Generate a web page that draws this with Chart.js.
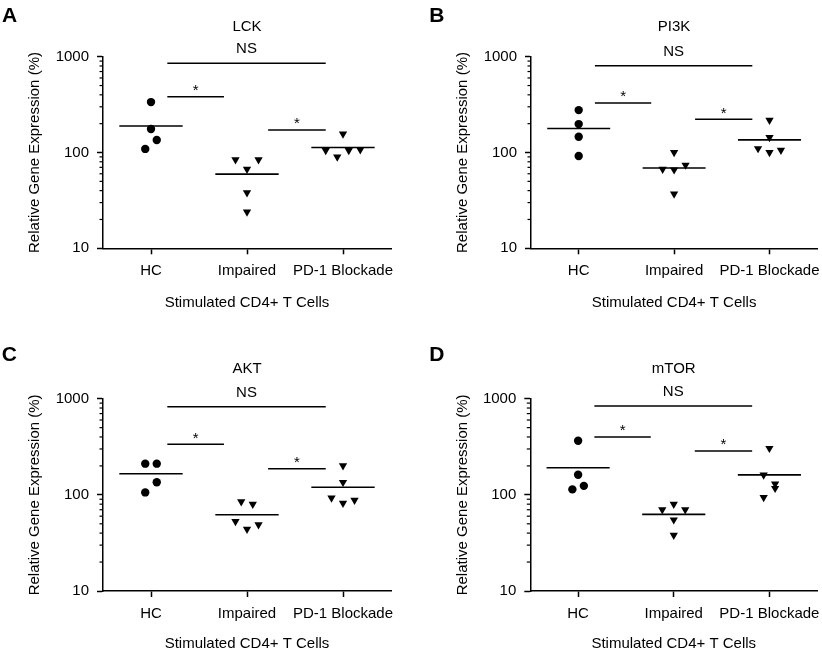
<!DOCTYPE html>
<html lang="en">

<head>
    <meta charset="UTF-8">
    <title>Relative Gene Expression</title>
    <script src="https://cdn.jsdelivr.net/npm/chart.js"></script>
    <style>
        body { margin: 0; background: #fff; }
        #wrap { position: relative; width: 822px; height: 652px; }
        #wrap canvas { position: absolute; }
    </style>
</head>

<body>
    <div id="wrap">
        <canvas id="chartA" width="411" height="326" style="left:0;top:0"></canvas>
        <canvas id="chartB" width="411" height="326" style="left:411px;top:0"></canvas>
        <canvas id="chartC" width="411" height="326" style="left:0;top:326px"></canvas>
        <canvas id="chartD" width="411" height="326" style="left:411px;top:326px"></canvas>
    </div>

    <script>
        const categories = ['HC', 'Impaired', 'PD-1 Blockade'];
        const yTickLabels = [10, 100, 1000];
        const genes = ['LCK', 'PI3K', 'AKT', 'mTOR'];
        const panelLetters = ['A', 'B', 'C', 'D'];

        // relative gene expression (%), one value per donor
        const lckHC = [336, 176, 109, 135];
        const lckImpaired = [84, 67, 84, 38, 24];
        const lckPD1 = [156, 105, 90, 105, 107];
        const pi3kHC = [277, 198, 146, 92];
        const pi3kImpaired = [100, 67, 66, 74, 37];
        const pi3kPD1 = [218, 144, 110, 100, 106];
        const aktHC = [211, 211, 106, 135];
        const aktImpaired = [85, 80, 53, 44, 49];
        const aktPD1 = [201, 135, 93, 82, 88];
        const mtorHC = [365, 162, 114, 124];
        const mtorImpaired = [70, 80, 70, 55, 38];
        const mtorPD1 = [305, 161, 130, 94, 117];

        // heights of the comparison bars: NS (HC vs PD-1), HC vs Impaired, Impaired vs PD-1
        const lckSig = [853, 382, 172];
        const pi3kSig = [805, 329, 222];
        const aktSig = [826, 336, 187];
        const mtorSig = [839, 400, 286];
        const sigLabels = ['NS', '*', '*'];

        const sigSpans = [[0.17, 1.82], [0.17, 0.76], [1.22, 1.82]];
        const FONT = '"Liberation Sans", Arial, Helvetica, sans-serif';

        Chart.defaults.font.family = FONT;
        Chart.defaults.font.size = 15;
        Chart.defaults.color = '#000';

        const panels = [
            { id: 'chartA', groups: [lckHC, lckImpaired, lckPD1], sig: lckSig,
              area: { left: 103, right: 391, top: 56.7, bottom: 248.3 }, letterPos: [2, 21.7], yTitleX: 35, xTitleY: 303 },
            { id: 'chartB', groups: [pi3kHC, pi3kImpaired, pi3kPD1], sig: pi3kSig,
              area: { left: 120, right: 407.3, top: 56.7, bottom: 248.3 }, letterPos: [18.3, 21.7], yTitleX: 51.7, xTitleY: 303 },
            { id: 'chartC', groups: [aktHC, aktImpaired, aktPD1], sig: aktSig,
              area: { left: 103, right: 391, top: 72.7, bottom: 265 }, letterPos: [1.7, 35], yTitleX: 35, xTitleY: 318 },
            { id: 'chartD', groups: [mtorHC, mtorImpaired, mtorPD1], sig: mtorSig,
              area: { left: 119.3, right: 407.3, top: 72.7, bottom: 265 }, letterPos: [18.3, 35], yTitleX: 51.7, xTitleY: 318 }
        ];

        // spread points that sit at about the same height side by side (like a column scatter)
        function swarmOffsets(values) {
            const rows = [];
            const slots = values.map(v => {
                const lv = Math.log10(v);
                let r = rows.findIndex(row => row.every(m => Math.abs(m - lv) < 0.11));
                if (r < 0) {
                    rows.push([]);
                    r = rows.length - 1;
                }
                rows[r].push(lv);
                return [r, rows[r].length - 1];
            });
            return slots.map(([r, k]) => (k - (rows[r].length - 1) / 2) * 0.12);
        }

        function mean(arr) {
            return arr.reduce((a, b) => a + b, 0) / arr.length;
        }

        const panelDecor = {
            id: 'panelDecor',
            afterDraw(chart, args, opts) {
                const { ctx, chartArea, scales } = chart;
                const x = scales.x, y = scales.y;
                ctx.save();
                ctx.strokeStyle = '#000';
                ctx.lineWidth = 1.2;
                // minor ticks on the log axis
                for (let d = 10; d < 1000; d *= 10) {
                    for (let m = 2; m <= 9; m++) {
                        const py = y.getPixelForValue(m * d);
                        ctx.beginPath();
                        ctx.moveTo(chartArea.left - 3.5, py);
                        ctx.lineTo(chartArea.left, py);
                        ctx.stroke();
                    }
                }
                ctx.fillStyle = '#000';
                ctx.textBaseline = 'alphabetic';
                ctx.textAlign = 'left';
                ctx.font = 'bold 21px ' + FONT;
                ctx.fillText(opts.letter, opts.letterPos[0], opts.letterPos[1]);

                ctx.textAlign = 'center';
                ctx.font = '15px ' + FONT;
                ctx.fillText(opts.gene, (chartArea.left + chartArea.right) / 2, chartArea.top - 25.5);

                opts.sig.forEach((h, k) => {
                    const [a, b] = sigSpans[k];
                    const cx = x.getPixelForValue((a + b) / 2);
                    const py = y.getPixelForValue(h);
                    ctx.fillText(sigLabels[k], cx, k === 0 ? py - 10 : py - 1.5);
                });
                ctx.restore();
            }
        };

        panels.forEach((p, pi) => {
            const datasets = [];
            p.groups.forEach((vals, i) => {
                const offs = swarmOffsets(vals);
                datasets.push({
                    data: vals.map((v, j) => ({ x: i + offs[j], y: v })),
                    pointStyle: i === 0 ? 'circle' : 'triangle',
                    pointRotation: i === 0 ? 0 : 180,
                    pointRadius: i === 0 ? 4.2 : 4.8,
                    pointBorderWidth: 0,
                    backgroundColor: '#000',
                    borderColor: '#000'
                });
                const m = mean(vals);
                datasets.push({
                    data: [{ x: i - 0.33, y: m }, { x: i + 0.33, y: m }],
                    showLine: true,
                    pointRadius: 0,
                    borderColor: '#000',
                    borderWidth: 1.6
                });
            });
            p.sig.forEach((h, k) => {
                datasets.push({
                    data: [{ x: sigSpans[k][0], y: h }, { x: sigSpans[k][1], y: h }],
                    showLine: true,
                    pointRadius: 0,
                    borderColor: '#000',
                    borderWidth: 1.4
                });
            });

            new Chart(document.getElementById(p.id), {
                type: 'scatter',
                data: { datasets: datasets },
                plugins: [panelDecor],
                options: {
                    responsive: false,
                    animation: false,
                    layout: { padding: { left: 0, top: p.area.top, right: 411 - p.area.right, bottom: 0 } },
                    plugins: {
                        legend: { display: false },
                        tooltip: { enabled: false },
                        panelDecor: { letter: panelLetters[pi], gene: genes[pi], sig: p.sig, letterPos: p.letterPos }
                    },
                    scales: {
                        x: {
                            type: 'linear',
                            min: -0.5,
                            max: 2.5,
                            afterBuildTicks: s => { s.ticks = categories.map((c, i) => ({ value: i })); },
                            afterFit: s => { s.height = 326 - p.area.bottom; s.paddingLeft = 0; s.paddingRight = 0; },
                            ticks: { callback: v => categories[Math.round(v)], padding: 8, maxRotation: 0, autoSkip: false },
                            grid: { drawOnChartArea: false, tickLength: 6, tickColor: '#000', tickWidth: 1.5 },
                            border: { display: true, color: '#000', width: 1.5 },
                            title: { display: true, text: 'Stimulated CD4+ T Cells', padding: { top: 0, bottom: 326 - 9 - p.xTitleY } }
                        },
                        y: {
                            type: 'logarithmic',
                            min: 10,
                            max: 1000,
                            afterBuildTicks: s => { s.ticks = yTickLabels.map(v => ({ value: v })); },
                            afterFit: s => { s.width = p.area.left; s.paddingTop = 0; s.paddingBottom = 0; },
                            ticks: { callback: v => String(v), padding: 8 },
                            grid: { drawOnChartArea: false, tickLength: 6, tickColor: '#000', tickWidth: 1.5 },
                            border: { display: true, color: '#000', width: 1.5 },
                            title: { display: true, text: 'Relative Gene Expression (%)', padding: { top: p.yTitleX - 9, bottom: 0 } }
                        }
                    }
                }
            });
        });
    </script>
</body>

</html>
